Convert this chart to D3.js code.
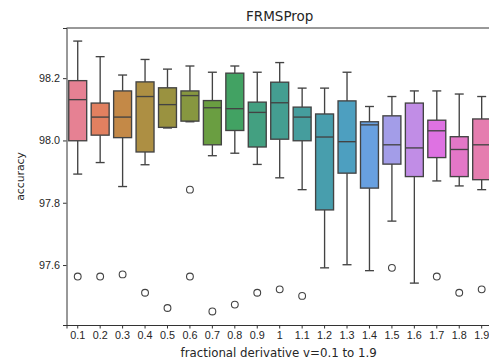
<!DOCTYPE html>
<html>
<head>
<meta charset="utf-8">
<script src="https://cdn.jsdelivr.net/npm/d3@7"></script>
<style>
  body { margin: 0; background: #fff; }
  svg { font-family: "DejaVu Sans", sans-serif; }
</style>
</head>
<body>
<div id="chart"></div>
<script>
// categories and box statistics
var cats = ["0.1","0.2","0.3","0.4","0.5","0.6","0.7","0.8","0.9","1","1.1","1.2","1.3","1.4","1.5","1.6","1.7","1.8","1.9"];
var whiskerHigh = [98.319, 98.269, 98.210, 98.260, 98.229, 98.239, 98.219, 98.239, 98.219, 98.250, 98.168, 98.168, 98.219, 98.109, 98.141, 98.159, 98.159, 98.149, 98.141];
var q3          = [98.192, 98.120, 98.159, 98.188, 98.169, 98.159, 98.128, 98.216, 98.123, 98.187, 98.107, 98.085, 98.127, 98.060, 98.079, 98.120, 98.065, 98.012, 98.069];
var medians     = [98.131, 98.075, 98.075, 98.141, 98.115, 98.144, 98.105, 98.102, 98.090, 98.121, 98.075, 98.011, 97.996, 98.050, 97.986, 97.976, 98.031, 97.971, 97.986];
var q1          = [97.999, 98.017, 98.009, 97.963, 98.042, 98.062, 97.986, 98.032, 97.979, 98.004, 97.999, 97.777, 97.895, 97.847, 97.924, 97.884, 97.945, 97.884, 97.874];
var whiskerLow  = [97.892, 97.929, 97.852, 97.922, 98.040, 98.060, 97.951, 97.959, 97.923, 97.880, 97.842, 97.591, 97.601, 97.582, 97.741, 97.542, 97.870, 97.854, 97.842];
// outliers: [category, value]
var outliers = [["0.1",97.563],["0.2",97.563],["0.3",97.570],["0.4",97.511],["0.5",97.462],
  ["0.6",97.842],["0.6",97.563],["0.7",97.451],["0.8",97.473],["0.9",97.511],["1",97.522],
  ["1.1",97.501],["1.5",97.591],["1.7",97.563],["1.8",97.511],["1.9",97.522]];
var yTicks = [97.6, 97.8, 98.0, 98.2];

// --- husl palette (same recipe as seaborn) ---
var M = [[3.2406,-1.5372,-0.4986],[-0.9689,1.8758,0.0415],[0.0557,-0.2040,1.0570]];
var refU = 0.19784, refV = 0.46834, labE = 0.008856, labK = 903.3;
function maxChroma(L, H) {
  var hr = H / 360 * 2 * Math.PI, sinH = Math.sin(hr), cosH = Math.cos(hr);
  var sub1 = Math.pow(L + 16, 3) / 1560896;
  var sub2 = sub1 > labE ? sub1 : L / labK;
  var result = Infinity;
  M.forEach(function(r) {
    var top = (0.99915*r[0] + 1.05122*r[1] + 1.14460*r[2]) * sub2;
    var rb = 0.86330*r[2] - 0.17266*r[1];
    var lb = 0.12949*r[2] - 0.38848*r[0];
    var bottom = (rb*sinH + lb*cosH) * sub2;
    [0, 1].forEach(function(t) {
      var C = L * (top - 1.05122*t) / (bottom + 0.17266*sinH*t);
      if (C > 0 && C < result) result = C;
    });
  });
  return result;
}
function fInv(t) { return Math.pow(t,3) > labE ? Math.pow(t,3) : (116*t - 16) / labK; }
function fromLinear(c) { return c <= 0.0031308 ? 12.92*c : 1.055*Math.pow(c, 1/2.4) - 0.055; }
function huslToRgb(H, S, L) {
  var C = maxChroma(L, H) / 100 * S;
  var hr = H / 360 * 2 * Math.PI;
  var U = Math.cos(hr) * C, V = Math.sin(hr) * C;
  var Y = fInv((L + 16) / 116);
  var vU = U / (13*L) + refU, vV = V / (13*L) + refV;
  var X = 0 - (9*Y*vU) / ((vU - 4)*vV - vU*vV);
  var Z = (9*Y - 15*vV*Y - vV*X) / (3*vV);
  return M.map(function(r) {
    var v = fromLinear(r[0]*X + r[1]*Y + r[2]*Z);
    return Math.max(0, Math.min(1, v));
  });
}
var n = cats.length;
var palette = d3.range(n).map(function(i) {
  var h = ((i / n + 0.01) % 1) * 359;
  var rgb = huslToRgb(h, 90 * 0.99, 65 * 0.99);
  var c = d3.hsl(d3.rgb(rgb[0]*255, rgb[1]*255, rgb[2]*255));
  c.s *= 0.75;
  return c;
});
var minL = d3.min(palette, function(c) { return c.l; });
var gray = d3.rgb(minL*0.62*255, minL*0.62*255, minL*0.62*255).toString();

// --- chart ---
var W = 489, H = 359;
var margin = {left: 66.5, top: 28, right: -3.9, bottom: 34};

var svg = d3.select("#chart").append("svg")
  .attr("width", W).attr("height", H);

var x = d3.scaleBand().domain(cats)
  .range([margin.left, W - margin.right]).padding(0);
var y = d3.scaleLinear().domain([97.4075, 98.361])
  .range([H - margin.bottom, margin.top]);

var bw = x.bandwidth() * 0.8;
var lw = 1.35;

// axes
svg.append("g")
  .attr("transform", "translate(0," + (H - margin.bottom) + ")")
  .call(d3.axisBottom(x).tickSize(3.5).tickPadding(3))
  .call(function(g) {
    g.select(".domain").attr("stroke", "#333").attr("stroke-width", 1);
    g.selectAll(".tick line").attr("stroke", "#333");
    g.selectAll("text").attr("font-size", 10.8).attr("fill", "#262626");
  });
svg.append("g")
  .attr("transform", "translate(" + margin.left + ",0)")
  .call(d3.axisLeft(y).tickValues(yTicks).tickFormat(d3.format(".1f")).tickSize(3.5).tickPadding(3))
  .call(function(g) {
    g.select(".domain").attr("stroke", "#333").attr("stroke-width", 1);
    g.selectAll(".tick line").attr("stroke", "#333");
    g.selectAll("text").attr("font-size", 10.8).attr("fill", "#262626");
  });
// top spine
svg.append("line")
  .attr("x1", margin.left).attr("x2", W - margin.right)
  .attr("y1", margin.top).attr("y2", margin.top)
  .attr("stroke", "#333").attr("stroke-width", 1);

var boxes = svg.append("g").selectAll("g")
  .data(cats).enter().append("g")
  .attr("transform", function(d) { return "translate(" + (x(d) + x.bandwidth()/2) + ",0)"; });

// whiskers
boxes.append("line")
  .attr("y1", function(d, i) { return y(whiskerHigh[i]); })
  .attr("y2", function(d, i) { return y(q3[i]); })
  .attr("stroke", gray).attr("stroke-width", lw);
boxes.append("line")
  .attr("y1", function(d, i) { return y(whiskerLow[i]); })
  .attr("y2", function(d, i) { return y(q1[i]); })
  .attr("stroke", gray).attr("stroke-width", lw);
// caps
[whiskerHigh, whiskerLow].forEach(function(arr) {
  boxes.append("line")
    .attr("x1", -bw/4).attr("x2", bw/4)
    .attr("y1", function(d, i) { return y(arr[i]); })
    .attr("y2", function(d, i) { return y(arr[i]); })
    .attr("stroke", gray).attr("stroke-width", lw);
});
// box
boxes.append("rect")
  .attr("x", -bw/2).attr("width", bw)
  .attr("y", function(d, i) { return y(q3[i]); })
  .attr("height", function(d, i) { return y(q1[i]) - y(q3[i]); })
  .attr("fill", function(d, i) { return palette[i]; })
  .attr("stroke", gray).attr("stroke-width", lw);
// median
boxes.append("line")
  .attr("x1", -bw/2).attr("x2", bw/2)
  .attr("y1", function(d, i) { return y(medians[i]); })
  .attr("y2", function(d, i) { return y(medians[i]); })
  .attr("stroke", gray).attr("stroke-width", lw);

// fliers
svg.append("g").selectAll("circle")
  .data(outliers).enter().append("circle")
  .attr("cx", function(d) { return x(d[0]) + x.bandwidth()/2; })
  .attr("cy", function(d) { return y(d[1]); })
  .attr("r", 3.4)
  .attr("fill", "none")
  .attr("stroke", gray).attr("stroke-width", 1.1);

// labels
var cx = (margin.left + W - margin.right) / 2;
svg.append("text")
  .attr("x", cx).attr("y", 21)
  .attr("text-anchor", "middle").attr("font-size", 13.5).attr("fill", "#262626")
  .text("FRMSProp");
svg.append("text")
  .attr("x", cx - 1).attr("y", 356.5)
  .attr("text-anchor", "middle").attr("font-size", 11.8).attr("fill", "#262626")
  .text("fractional derivative v=0.1 to 1.9");
svg.append("text")
  .attr("transform", "translate(23.5," + ((margin.top + H - margin.bottom) / 2) + ") rotate(-90)")
  .attr("text-anchor", "middle").attr("font-size", 10.8).attr("fill", "#262626")
  .text("accuracy");
</script>
</body>
</html>
